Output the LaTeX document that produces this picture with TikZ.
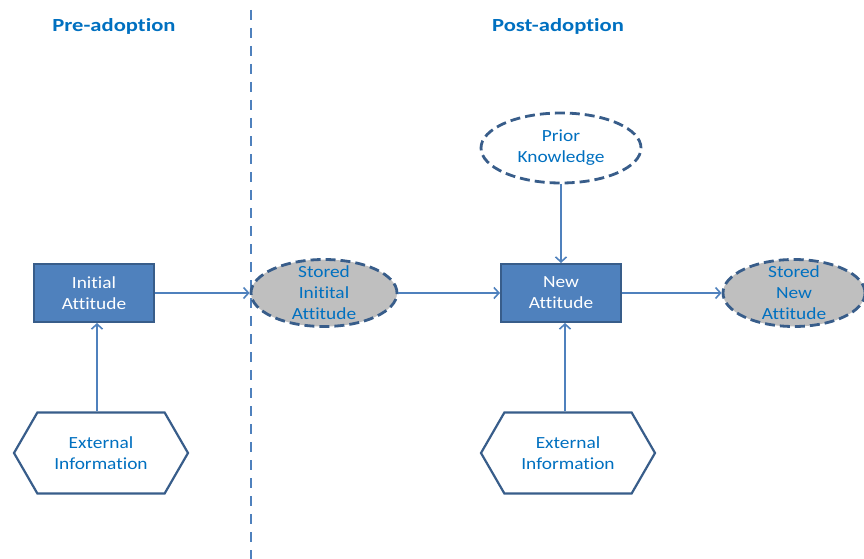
\documentclass[tikz,border=0pt]{standalone}
\usepackage{fontspec}
\setmainfont[FakeStretch = 1.14, Ligatures = NoCommon]{Carlito}
\newfontfamily\titlefont[FakeStretch = 1.22, Ligatures = NoCommon]{Carlito}
\usetikzlibrary{arrows.meta,shapes.geometric,shapes.symbols}

\definecolor{boxblue}{HTML}{4F81BD}
\definecolor{edgeblue}{HTML}{385D8A}
\definecolor{textblue}{HTML}{0070C0}
\definecolor{storegray}{HTML}{BFBFBF}

\tikzset{
	phase/.style = {text = textblue, font = \titlefont\fontsize{18.5}{21}\selectfont\bfseries},
	attbox/.style = {draw = edgeblue, line width = 2pt, fill = boxblue, text = white,
		minimum width = 120pt, minimum height = 58pt, align = center,
		font = \fontsize{17}{21}\selectfont},
	memory/.style = {ellipse, draw = edgeblue, dash pattern = on 10pt off 5pt, line width = 2.8pt,
		text = textblue, inner xsep = 0pt, inner ysep = -6pt, align = center,
		font = \fontsize{17}{21}\selectfont},
	info/.style = {signal, signal to = west and east, signal pointer angle = 120,
		draw = edgeblue, line width = 2.2pt, fill = white, text = textblue,
		minimum width = 174pt, minimum height = 81pt, align = center,
		font = \fontsize{17}{21}\selectfont},
	link/.style = {draw = boxblue, line width = 1.6pt, -{Straight Barb[length = 5pt, width = 11pt]}},
	divider/.style = {draw = boxblue, line width = 2.4pt, dash pattern = on 10pt off 8pt}
}

\begin{document}
\begin{tikzpicture}[x = 1pt, y = -1pt]
	\useasboundingbox (0,0) rectangle (864,559);

	\node[phase] (PRE) at (114,26) {Pre-adoption};
	\node[phase] (POST) at (558,26) {Post-adoption};
	\draw[divider] (251,10) -- (251,559);

	\node[attbox] (IA) at (94,293) {Initial\\Attitude};
	\node[info] (EI1) at (101,453) {External\\Information};
	\node[memory, fill = storegray, minimum width = 146pt, minimum height = 67pt]
		(SIA) at (324,293) {Stored\\Initital\\Attitude};
	\node[memory, fill = white, minimum width = 160pt, minimum height = 70pt, inner ysep = 0pt]
		(PK) at (561,148) {Prior\\Knowledge};
	\node[attbox] (NA) at (561,293) {New\\Attitude};
	\node[info] (EI2) at (568,453) {External\\Information};
	\node[memory, fill = storegray, minimum width = 142pt, minimum height = 67pt]
		(SNA) at (794,293) {Stored\\New\\Attitude};

	\draw[link] (EI1.north -| IA.south) ++(3,0) coordinate (c1) -- (c1 |- IA.south);
	\draw[link] (IA) -- (SIA);
	\draw[link] (SIA) -- (NA);
	\draw[link] (PK) -- (NA);
	\draw[link] (EI2.north -| NA.south) ++(4,0) coordinate (c2) -- (c2 |- NA.south);
	\draw[link] (NA) -- (SNA);
\end{tikzpicture}
\end{document}
